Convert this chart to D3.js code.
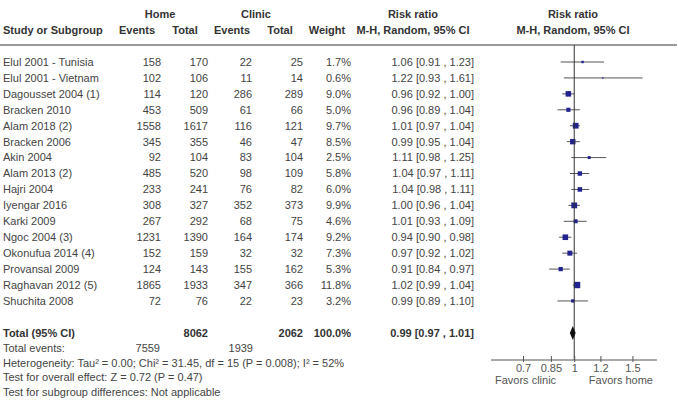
<!DOCTYPE html>
<html>
<head>
<meta charset="utf-8">
<script src="https://cdn.jsdelivr.net/npm/d3@7"></script>
<style>
  html, body { margin: 0; padding: 0; background: #fff; }
  svg text { font-family: "Liberation Sans", Arial, sans-serif; font-size: 11px; fill: #444; }
  svg text.bold { font-weight: bold; fill: #333; }
</style>
</head>
<body>
<svg id="chart"></svg>
<script>
'use strict';

// study rows
var studies = ['Elul 2001 - Tunisia', 'Elul 2001 - Vietnam', 'Dagousset 2004 (1)', 'Bracken 2010',
  'Alam 2018 (2)', 'Bracken 2006', 'Akin 2004', 'Alam 2013 (2)', 'Hajri 2004', 'Iyengar 2016',
  'Karki 2009', 'Ngoc 2004 (3)', 'Okonufua 2014 (4)', 'Provansal 2009', 'Raghavan 2012 (5)', 'Shuchita 2008'];
var homeEvents   = [158, 102, 114, 453, 1558, 345, 92, 485, 233, 308, 267, 1231, 152, 124, 1865, 72];
var homeTotal    = [170, 106, 120, 509, 1617, 355, 104, 520, 241, 327, 292, 1390, 159, 143, 1933, 76];
var clinicEvents = [22, 11, 286, 61, 116, 46, 83, 98, 76, 352, 68, 164, 32, 155, 347, 22];
var clinicTotal  = [25, 14, 289, 66, 121, 47, 104, 109, 82, 373, 75, 174, 32, 162, 366, 23];
var weights = [1.7, 0.6, 9.0, 5.0, 9.7, 8.5, 2.5, 5.8, 6.0, 9.9, 4.6, 9.2, 7.3, 5.3, 11.8, 3.2];
var rr      = [1.06, 1.22, 0.96, 0.96, 1.01, 0.99, 1.11, 1.04, 1.04, 1.00, 1.01, 0.94, 0.97, 0.91, 1.02, 0.99];
var rrLow   = [0.91, 0.93, 0.92, 0.89, 0.97, 0.95, 0.98, 0.97, 0.98, 0.96, 0.93, 0.90, 0.92, 0.84, 0.99, 0.89];
var rrHigh  = [1.23, 1.61, 1.00, 1.04, 1.04, 1.04, 1.25, 1.11, 1.11, 1.04, 1.09, 0.98, 1.02, 0.97, 1.04, 1.10];

// pooled result
var total = { homeTotal: 8062, clinicTotal: 2062, homeEvents: 7559, clinicEvents: 1939,
              rr: 0.99, low: 0.97, high: 1.01 };
var tickValues = [0.7, 0.85, 1, 1.2, 1.5];
var footnotes = [
  'Heterogeneity: Tau\u00b2 = 0.00; Chi\u00b2 = 31.45, df = 15 (P = 0.008); I\u00b2 = 52%',
  'Test for overall effect: Z = 0.72 (P = 0.47)',
  'Test for subgroup differences: Not applicable'
];

var width = 678,
    height = 413,
    firstRowY = 62,
    rowStep = 15.93,
    axisY = 360,
    fmt = d3.format('.2f');

var svg = d3.select('#chart')
    .attr('width', width)
    .attr('height', height);

var x = d3.scaleLog()
    .domain([0.56, 1.78])
    .range([491, 657]);

var y = d3.scaleLinear()
    .domain([0, studies.length - 1])
    .range([firstRowY, firstRowY + rowStep * (studies.length - 1)]);

function addText(g, tx, ty, str, anchor, cls) {
  return g.append('text')
      .attr('x', tx)
      .attr('y', ty)
      .attr('dy', '0.35em')
      .attr('text-anchor', anchor || 'start')
      .attr('class', cls || null)
      .text(str);
}

// headers
var head = svg.append('g');
addText(head, 160, 14, 'Home', 'middle', 'bold');
addText(head, 256, 14, 'Clinic', 'middle', 'bold');
addText(head, 413, 14, 'Risk ratio', 'middle', 'bold');
addText(head, 573, 14, 'Risk ratio', 'middle', 'bold');
addText(head, 3, 30, 'Study or Subgroup', 'start', 'bold');
addText(head, 137, 30, 'Events', 'middle', 'bold');
addText(head, 185, 30, 'Total', 'middle', 'bold');
addText(head, 232, 30, 'Events', 'middle', 'bold');
addText(head, 280, 30, 'Total', 'middle', 'bold');
addText(head, 327, 30, 'Weight', 'middle', 'bold');
addText(head, 413, 30, 'M-H, Random, 95% CI', 'middle', 'bold');
addText(head, 573, 30, 'M-H, Random, 95% CI', 'middle', 'bold');

svg.append('line')
    .attr('x1', 0).attr('x2', 677)
    .attr('y1', 45).attr('y2', 45)
    .style('stroke', '#999')
    .style('stroke-width', 2);

// table rows
var rows = svg.selectAll('g.row')
    .data(studies)
    .enter().append('g')
    .attr('class', 'row')
    .attr('transform', function(d, i) { return 'translate(0,' + y(i) + ')'; });

rows.each(function(d, i) {
  var g = d3.select(this);
  addText(g, 3, 0, d);
  addText(g, 161, 0, homeEvents[i], 'end');
  addText(g, 208, 0, homeTotal[i], 'end');
  addText(g, 252, 0, clinicEvents[i], 'end');
  addText(g, 303, 0, clinicTotal[i], 'end');
  addText(g, 351, 0, weights[i].toFixed(1) + '%', 'end');
  addText(g, 474, 0, fmt(rr[i]) + ' [' + fmt(rrLow[i]) + ' , ' + fmt(rrHigh[i]) + ']', 'end');
});

// forest plot: line of no effect
svg.append('line')
    .attr('x1', x(1)).attr('x2', x(1))
    .attr('y1', 45).attr('y2', axisY)
    .style('stroke', '#333')
    .style('stroke-width', 1);

rows.append('line')
    .attr('x1', function(d, i) { return x(rrLow[i]); })
    .attr('x2', function(d, i) { return x(rrHigh[i]); })
    .attr('y1', 0).attr('y2', 0)
    .style('stroke', '#555')
    .style('stroke-width', 1);

var boxSize = d3.scaleSqrt().domain([0, 12]).range([0, 6.4]);

rows.append('rect')
    .attr('x', function(d, i) { return x(rr[i]) - boxSize(weights[i]) / 2; })
    .attr('y', function(d, i) { return -boxSize(weights[i]) / 2; })
    .attr('width', function(d, i) { return boxSize(weights[i]); })
    .attr('height', function(d, i) { return boxSize(weights[i]); })
    .style('fill', '#23238f');

// total row
var totalY = 333;
var tg = svg.append('g');
addText(tg, 3, totalY, 'Total (95% CI)', 'start', 'bold');
addText(tg, 208, totalY, total.homeTotal, 'end', 'bold');
addText(tg, 303, totalY, total.clinicTotal, 'end', 'bold');
addText(tg, 351, totalY, '100.0%', 'end', 'bold');
addText(tg, 474, totalY, fmt(total.rr) + ' [' + fmt(total.low) + ' , ' + fmt(total.high) + ']', 'end', 'bold');

tg.append('path')
    .attr('d', 'M' + x(total.low) + ',' + totalY +
               'L' + x(total.rr) + ',' + (totalY - 7) +
               'L' + x(total.high) + ',' + totalY +
               'L' + x(total.rr) + ',' + (totalY + 7) + 'Z')
    .style('fill', '#111');

addText(tg, 3, 348, 'Total events:');
addText(tg, 160, 348, total.homeEvents, 'end');
addText(tg, 253, 348, total.clinicEvents, 'end');

footnotes.forEach(function(f, i) {
  addText(tg, 3, 363 + i * 14.5, f);
});

// axis
var axis = d3.axisBottom(x)
    .tickValues(tickValues)
    .tickFormat(function(d) { return String(d); })
    .tickSize(0)
    .tickPadding(4);

var axisG = svg.append('g')
    .attr('transform', 'translate(0,' + axisY + ')')
    .call(axis);

axisG.select('.domain').remove();
axisG.append('line')
    .attr('x1', x.range()[0]).attr('x2', x.range()[1])
    .style('stroke', '#555');
axisG.selectAll('.tick').append('line')
    .attr('y1', -4).attr('y2', 2)
    .style('stroke', '#555');
axisG.selectAll('.tick text')
    .style('font-family', '"Liberation Sans", Arial, sans-serif')
    .style('font-size', '11px')
    .style('fill', '#555');

addText(svg, 495, 380, 'Favors clinic', 'start').style('fill', '#555');
addText(svg, 653, 380, 'Favors home', 'end').style('fill', '#555');
</script>
</body>
</html>
